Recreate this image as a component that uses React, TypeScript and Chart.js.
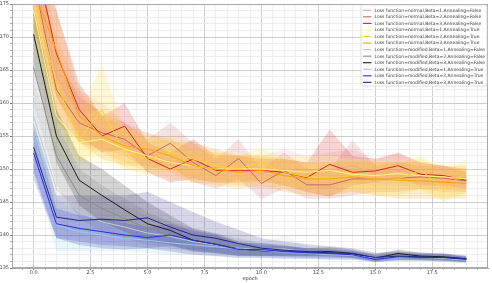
import React, { useEffect, useRef } from "react";
import { Chart, registerables } from "chart.js";

Chart.register(...registerables);

const EPOCHS = [0, 1, 2, 3, 4, 5, 6, 7, 8, 9, 10, 11, 12, 13, 14, 15, 16, 17, 18, 19];

// Loss function=normal, Beta=1, Annealing=False
const meanN1F = [180, 164, 158, 156, 154, 152.5, 151, 151, 150.2, 149.5, 149.3, 150, 149.5, 149.8, 150.5, 149.3, 149.8, 149, 148.8, 148.5];
const loN1F = [173, 158, 154, 152.5, 151, 149.5, 148.5, 148, 148, 147.5, 147, 147.5, 147, 147, 148, 147.5, 147.5, 147, 147, 146.5];
const hiN1F = [187, 170, 162, 160, 157, 155.5, 154, 154, 153, 152, 152, 153, 152, 152.5, 153, 151.5, 152.3, 151, 150.5, 150.5];

// Loss function=normal, Beta=2, Annealing=False
const meanN2F = [179, 162, 157, 155.5, 154.5, 152, 153.9, 151, 149, 151.6, 147.8, 149.8, 147.6, 147.6, 148.5, 148.5, 148.6, 148.8, 148.6, 148.2];
const loN2F = [172, 157, 154, 153, 152, 150, 150.5, 148, 147, 148.5, 145.5, 147, 145.5, 145.5, 146, 146.5, 146.5, 147, 146.5, 146.5];
const hiN2F = [186, 167, 161, 158.5, 157, 154.5, 157, 154, 151.5, 154.5, 150, 152.5, 150, 150, 154.3, 150.5, 151, 150.5, 150.5, 150];

// Loss function=normal, Beta=3, Annealing=False
const meanN3F = [183, 167.5, 159, 155, 156.5, 151.6, 150, 151.5, 149.8, 149.8, 149.8, 149.5, 148.7, 150.7, 149.5, 149.7, 150.5, 149.2, 149, 148.3];
const loN3F = [176, 161, 155, 152.5, 153, 149.5, 148, 148.5, 148, 148, 148.2, 147.5, 146.5, 145.8, 147.5, 148, 148.5, 147.5, 147.5, 147];
const hiN3F = [190, 174, 163, 158, 160, 154, 152.5, 154.5, 152, 152, 151.5, 151.5, 151, 156, 152, 151.5, 152.5, 151, 150.5, 149.5];

// Loss function=normal, Beta=1, Annealing=True
const meanN1T = [174, 158, 154, 154.5, 153, 152, 151, 150.5, 150, 150, 150, 149.8, 149.5, 149.8, 149.2, 149, 149.3, 149, 148.8, 148.5];
const loN1T = [168, 152, 150.5, 151, 150, 149.5, 148.5, 148, 147.5, 147.5, 147.5, 147.5, 147, 147.5, 147, 146.5, 147, 146.5, 146, 146];
const hiN1T = [180, 164, 158, 159, 156.5, 155, 154, 153, 152.5, 152.5, 152, 152, 152, 152, 151.5, 151.5, 151.5, 151.5, 151, 150.5];

// Loss function=normal, Beta=2, Annealing=True
const meanN2T = [176, 163, 154.5, 159, 152.5, 151.5, 152.5, 151.5, 150.5, 150, 151, 149.5, 148.8, 148.5, 149, 148.5, 148.5, 149.8, 147, 149.6];
const loN2T = [170, 157, 151, 153, 150, 149, 150, 149, 148.5, 148, 148.5, 147.5, 146.5, 146, 146.5, 146, 146, 147, 145, 146.5];
const hiN2T = [182, 169, 158, 166, 156, 154, 155, 154, 153, 152, 153.2, 151.5, 151, 151, 151.5, 151, 151, 152, 149.5, 151.5];

// Loss function=normal, Beta=3, Annealing=True
const meanN3T = [177, 168, 158, 155, 153.5, 153, 152, 150.5, 150, 149.5, 149.8, 149, 148.5, 148.5, 148.8, 148.5, 148.3, 148.2, 148, 147.8];
const loN3T = [171, 161, 154, 151.5, 150.5, 150.5, 149.5, 148, 147.5, 147, 147.5, 146.5, 146, 146, 146.5, 146, 145.5, 145.5, 145.5, 145.5];
const hiN3T = [184, 174, 162, 158, 156.5, 155.5, 154.5, 153, 152.5, 152, 152, 151.5, 151, 151, 151, 151, 151, 151, 150.5, 150];

// Loss function=modified, Beta=1, Annealing=False
const meanM1F = [158, 147, 143.5, 142, 141.2, 140.3, 139.8, 139, 138.5, 138, 137.8, 137.9, 137.4, 137.2, 137, 136.7, 136.8, 136.7, 136.5, 136.3];
const loM1F = [153, 140, 139.5, 139, 138.5, 138, 138, 137.5, 137.2, 137, 137, 137, 136.7, 136.6, 136.5, 136.2, 136.3, 136.2, 136.1, 135.9];
const hiM1F = [163, 153.5, 148.5, 146, 144.5, 143, 142, 140.5, 139.8, 139.2, 138.8, 140, 138.3, 137.9, 137.5, 137.2, 137.3, 137.2, 137, 136.7];

// Loss function=modified, Beta=2, Annealing=False
const meanM2F = [165.4, 152, 146, 144, 142.5, 141, 140, 139.3, 138.8, 138.3, 137.8, 137.6, 137.4, 137.3, 137, 136.7, 136.9, 136.7, 136.6, 136.3];
const loM2F = [160, 147.5, 142.5, 140.5, 139.5, 138.5, 138, 137.5, 137.3, 137, 136.8, 136.8, 136.8, 136.7, 136.5, 136.2, 136.3, 136.2, 136.1, 135.9];
const hiM2F = [170.5, 157, 150, 147.5, 145.5, 143.5, 142, 141, 140.3, 139.5, 138.8, 138.5, 138, 137.9, 137.5, 137.2, 137.5, 137.2, 137.1, 136.7];

// Loss function=modified, Beta=3, Annealing=False
const meanM3F = [170.4, 155, 148.3, 146, 143.8, 141.7, 140.7, 139.2, 138.6, 137.9, 137.6, 137.5, 137.4, 137.5, 137.2, 136.5, 137.2, 136.8, 136.7, 136.4];
const loM3F = [166, 151, 144.5, 142, 140.5, 139, 138.5, 137.5, 137.2, 136.8, 136.8, 136.8, 136.8, 136.8, 136.6, 136, 136.6, 136.3, 136.2, 136];
const hiM3F = [174.5, 159, 152, 150, 147.5, 145, 143, 141, 140.2, 139, 138.5, 138.3, 138, 138.2, 137.8, 137, 137.8, 137.3, 137.2, 136.8];

// Loss function=modified, Beta=1, Annealing=True
const meanM1T = [155.5, 141.5, 140.5, 140, 139.5, 139.2, 138.8, 138.5, 138.2, 137.9, 137.7, 137.4, 137.2, 137, 136.9, 136.5, 136.6, 136.6, 136.5, 136.2];
const loM1T = [150, 137.5, 137.5, 137.5, 137.5, 137.3, 137, 137, 136.8, 136.7, 136.6, 136.5, 136.4, 136.3, 136.2, 135.9, 136, 136, 135.9, 135.7];
const hiM1T = [161, 145.5, 143.5, 142.5, 141.5, 141, 140.5, 140, 139.5, 139, 138.7, 138.3, 138, 137.7, 137.5, 137, 137.2, 137.2, 137, 136.7];

// Loss function=modified, Beta=2, Annealing=True
const meanM2T = [152.4, 141.7, 141, 140.5, 140, 139.6, 140, 139.2, 138.6, 137.8, 137.8, 137.5, 137.3, 137.2, 137, 136.3, 136.7, 136.6, 136.6, 136.3];
const loM2T = [148.5, 139.5, 139, 138.5, 138.3, 138, 138.3, 137.7, 137.3, 136.8, 136.8, 136.7, 136.6, 136.6, 136.5, 135.9, 136.2, 136.2, 136.1, 135.9];
const hiM2T = [156, 144, 143, 142.5, 141.8, 141.2, 141.7, 140.7, 140, 138.8, 138.8, 138.4, 138, 137.8, 137.6, 136.8, 137.2, 137.1, 137.1, 136.7];

// Loss function=modified, Beta=3, Annealing=True
const meanM3T = [153.3, 142.7, 142.2, 142.4, 142.2, 142.6, 141.2, 140, 139.5, 138.7, 138, 137.7, 137.5, 137.3, 137.2, 136.6, 136.8, 136.7, 136.6, 136.4];
const loM3T = [149.5, 139.5, 138.5, 138, 137.8, 138, 137.5, 137, 136.8, 136.5, 136.5, 136.4, 136.4, 136.3, 136.3, 135.9, 136.1, 136.1, 136, 135.8];
const hiM3T = [157, 146, 146, 146, 146, 146.5, 145, 143.5, 142, 140.8, 139.5, 139, 138.6, 138.3, 138, 137.3, 137.5, 137.3, 137.2, 136.9];

const SERIES = [
  { label: "Loss function=normal,Beta=1,Annealing=False", rgb: [244, 160, 166], mean: meanN1F, lo: loN1F, hi: hiN1F },
  { label: "Loss function=normal,Beta=2,Annealing=False", rgb: [200, 104, 104], mean: meanN2F, lo: loN2F, hi: hiN2F },
  { label: "Loss function=normal,Beta=3,Annealing=False", rgb: [218, 34, 34], mean: meanN3F, lo: loN3F, hi: hiN3F },
  { label: "Loss function=normal,Beta=1,Annealing=True", rgb: [255, 250, 110], mean: meanN1T, lo: loN1T, hi: hiN1T },
  { label: "Loss function=normal,Beta=2,Annealing=True", rgb: [255, 212, 42], mean: meanN2T, lo: loN2T, hi: hiN2T },
  { label: "Loss function=normal,Beta=3,Annealing=True", rgb: [255, 165, 0], mean: meanN3T, lo: loN3T, hi: hiN3T },
  { label: "Loss function=modified,Beta=1,Annealing=False", rgb: [200, 200, 200], mean: meanM1F, lo: loM1F, hi: hiM1F },
  { label: "Loss function=modified,Beta=2,Annealing=False", rgb: [138, 138, 138], mean: meanM2F, lo: loM2F, hi: hiM2F },
  { label: "Loss function=modified,Beta=3,Annealing=False", rgb: [26, 26, 26], mean: meanM3F, lo: loM3F, hi: hiM3F },
  { label: "Loss function=modified,Beta=1,Annealing=True", rgb: [140, 206, 240], mean: meanM1T, lo: loM1T, hi: hiM1T },
  { label: "Loss function=modified,Beta=2,Annealing=True", rgb: [42, 42, 224], mean: meanM2T, lo: loM2T, hi: hiM2T },
  { label: "Loss function=modified,Beta=3,Annealing=True", rgb: [35, 35, 140], mean: meanM3T, lo: loM3T, hi: hiM3T },
];

const X_TICKS = [-0.5, 0, 0.5, 1, 1.5, 2, 2.5, 3, 3.5, 4, 4.5, 5, 5.5, 6, 6.5, 7, 7.5, 8, 8.5, 9, 9.5, 10, 10.5, 11, 11.5, 12, 12.5, 13, 13.5, 14, 14.5, 15, 15.5, 16, 16.5, 17, 17.5, 18, 18.5, 19, 19.5];
const X_MAJOR = [0, 2.5, 5, 7.5, 10, 12.5, 15, 17.5];
const Y_TICKS = [135, 136, 137, 138, 139, 140, 141, 142, 143, 144, 145, 146, 147, 148, 149, 150, 151, 152, 153, 154, 155, 156, 157, 158, 159, 160, 161, 162, 163, 164, 165, 166, 167, 168, 169, 170, 171, 172, 173, 174, 175];
const Y_MAJOR = [135, 140, 145, 150, 155, 160, 165, 170, 175];

const FONT = "DejaVu Sans";

const rgba = (c: number[], a: number) => `rgba(${c[0]},${c[1]},${c[2]},${a})`;
const pts = (arr: number[]) => EPOCHS.map((e, i) => ({ x: e, y: arr[i] }));

const framePlugin = {
  id: "frame",
  afterDatasetsDraw(chart: any) {
    const { ctx, chartArea: a } = chart;
    ctx.save();
    ctx.strokeStyle = "#a8a8a8";
    ctx.lineWidth = 1;
    ctx.strokeRect(Math.round(a.left) + 0.5, Math.round(a.top) + 0.5, Math.round(a.right - a.left) - 1, Math.round(a.bottom - a.top) - 1);
    ctx.restore();
  },
};

const legendPlugin = {
  id: "boxLegend",
  afterDraw(chart: any) {
    const { ctx } = chart;
    const x = 361, y = 5, w = 126, h = 81, r = 2;
    ctx.save();
    ctx.beginPath();
    ctx.moveTo(x + r, y);
    ctx.arcTo(x + w, y, x + w, y + h, r);
    ctx.arcTo(x + w, y + h, x, y + h, r);
    ctx.arcTo(x, y + h, x, y, r);
    ctx.arcTo(x, y, x + w, y, r);
    ctx.closePath();
    ctx.fillStyle = "rgba(255,255,255,0.85)";
    ctx.fill();
    ctx.strokeStyle = "#d6d6d6";
    ctx.lineWidth = 0.8;
    ctx.stroke();
    ctx.font = `4.5px "${FONT}"`;
    ctx.textBaseline = "middle";
    ctx.textAlign = "left";
    SERIES.forEach((s, i) => {
      const ry = 10.3 + i * 6.55;
      ctx.strokeStyle = rgba(s.rgb, 1);
      ctx.lineWidth = 1.1;
      ctx.beginPath();
      ctx.moveTo(363, ry);
      ctx.lineTo(371.5, ry);
      ctx.stroke();
      ctx.fillStyle = "#3a3a3a";
      ctx.fillText(s.label, 374.5, ry + 0.2);
    });
    ctx.restore();
  },
};

export default function App() {
  const ref = useRef<HTMLCanvasElement | null>(null);

  useEffect(() => {
    if (!ref.current) return;
    const datasets: any[] = [];
    SERIES.forEach((s, i) => {
      datasets.push({
        label: s.label + " lo",
        data: pts(s.lo),
        borderWidth: 0,
        pointRadius: 0,
        fill: false,
        order: 100 - i,
      });
      datasets.push({
        label: s.label + " hi",
        data: pts(s.hi),
        borderWidth: 0,
        pointRadius: 0,
        fill: "-1",
        backgroundColor: rgba(s.rgb, 0.19),
        order: 100 - i,
      });
    });
    SERIES.forEach((s, i) => {
      datasets.push({
        label: s.label,
        data: pts(s.mean),
        borderColor: rgba(s.rgb, 1),
        borderWidth: 1,
        pointRadius: 0,
        fill: false,
        tension: 0,
        order: -1 - i,
      });
    });

    const gridColor = (majors: number[]) => (c: any) =>
      c.tick && majors.includes(c.tick.value) ? "#cdcdcd" : "#ededed";
    const tickColor = (majors: number[]) => (c: any) =>
      c.tick && majors.includes(c.tick.value) ? "#777" : "#aaa";

    const chart = new Chart(ref.current, {
      type: "line",
      data: { datasets },
      plugins: [framePlugin, legendPlugin],
      options: {
        animation: false,
        responsive: false,
        devicePixelRatio: 1,
        events: [],
        layout: { padding: { left: 0, top: 3, right: 4, bottom: 0 } },
        plugins: { legend: { display: false }, tooltip: { enabled: false } },
        scales: {
          x: {
            type: "linear",
            min: -0.95,
            max: 19.95,
            afterBuildTicks: (s: any) => {
              s.ticks = X_TICKS.map((v) => ({ value: v }));
            },
            afterFit: (s: any) => {
              s.height = 15;
            },
            ticks: {
              autoSkip: false,
              maxRotation: 0,
              padding: 0,
              color: "#444",
              font: { family: FONT, size: 5 },
              callback: (v: any) => (X_MAJOR.includes(Number(v)) ? Number(v).toFixed(1) : ""),
            },
            grid: { color: gridColor(X_MAJOR), tickColor: tickColor(X_MAJOR), tickLength: 2, lineWidth: 1 },
            border: { color: "#a8a8a8" },
            title: { display: true, text: "epoch", color: "#333", font: { family: FONT, size: 5 }, padding: { top: 0, bottom: 1 } },
          },
          y: {
            type: "linear",
            min: 135,
            max: 175,
            afterBuildTicks: (s: any) => {
              s.ticks = Y_TICKS.map((v) => ({ value: v }));
            },
            afterFit: (s: any) => {
              s.width = 12;
            },
            ticks: {
              autoSkip: false,
              padding: 1,
              color: "#444",
              font: { family: FONT, size: 5 },
              callback: (v: any) => (Y_MAJOR.includes(Number(v)) ? String(v) : ""),
            },
            grid: { color: gridColor(Y_MAJOR), tickColor: tickColor(Y_MAJOR), tickLength: 2, lineWidth: 1 },
            border: { color: "#a8a8a8" },
          },
        },
      },
    } as any);
    return () => chart.destroy();
  }, []);

  return (
    <div style={{ position: "fixed", left: 0, top: 0, width: 492, height: 283, background: "#fff" }}>
      <canvas ref={ref} width={492} height={283} style={{ display: "block" }} />
    </div>
  );
}
